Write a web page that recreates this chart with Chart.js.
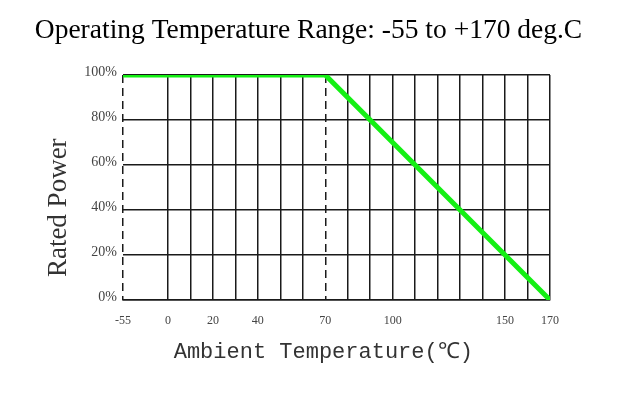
<!DOCTYPE html>
<html>
<head>
<meta charset="utf-8">
<script src="https://cdn.jsdelivr.net/npm/chart.js@4"></script>
<style>
  html, body { margin: 0; padding: 0; background: #fff; }
  #chart { display: block; }
</style>
</head>
<body>
<canvas id="chart" width="617" height="395"></canvas>
<script>
// derating curve: temperature (deg C) vs rated power (%)
const temps = [-55, 70, 170];
const ratedPower = [100, 100, 0];

// vertical grid positions and the ones that get a label
const gridTemps = [-55, 0, 10, 20, 30, 40, 50, 60, 70, 80, 90, 100, 110, 120, 130, 140, 150, 160, 170];
const labelTemps = [-55, 0, 20, 40, 70, 100, 150, 170];
const dashedTemps = [-55, 70];
const powerTicks = [0, 20, 40, 60, 80, 100];

// the drawing squeezes -55..0 into the width of 20 degrees (broken axis)
class BrokenLinearScale extends Chart.LinearScale {
    getPixelForValue(value) {
        const v = value < 0 ? value * 20 / 55 : value;
        return super.getPixelForValue(v);
    }
}
BrokenLinearScale.id = "brokenLinear";
BrokenLinearScale.defaults = Chart.LinearScale.defaults;
Chart.register(BrokenLinearScale);

const gridColor = "#1a1a1a";
const NBSP = "\u00a0";

const ctx = document.getElementById("chart").getContext("2d");
const chart = new Chart(ctx, {
    type: "line",
    data: {
        datasets: [{
            data: temps.map((t, i) => ({ x: t, y: ratedPower[i] })),
            borderColor: "#14f014",
            borderWidth: 5,
            pointRadius: 0,
            tension: 0,
            fill: false
        }]
    },
    options: {
        responsive: false,
        animation: false,
        layout: { padding: 0 },
        plugins: {
            legend: { display: false },
            tooltip: { enabled: false },
            title: {
                display: true,
                text: "Operating Temperature Range: -55 to +170 deg.C",
                color: "#000",
                font: { family: "'Liberation Serif', serif", size: 27.5, weight: "normal", lineHeight: 1.2 },
                padding: { top: 14, bottom: 28 }
            }
        },
        scales: {
            x: {
                type: "brokenLinear",
                min: -20,
                max: 170,
                afterFit: function(scale) { scale.height = 95; },
                afterBuildTicks: function(scale) {
                    scale.ticks = gridTemps.map(v => ({ value: v }));
                },
                ticks: {
                    autoSkip: false,
                    maxRotation: 0,
                    padding: 14,
                    color: "#444",
                    font: { family: "'Liberation Serif', serif", size: 12 },
                    callback: function(value) {
                        return labelTemps.includes(value) ? String(value) : "";
                    }
                },
                grid: {
                    color: gridColor,
                    lineWidth: 1.5,
                    drawTicks: false
                },
                border: {
                    display: true,
                    color: gridColor,
                    width: 1.5,
                    dash: function(c) {
                        return c.tick && dashedTemps.includes(c.tick.value) ? [8, 5] : [];
                    }
                },
                title: {
                    display: true,
                    text: "Ambient Temperature(\u2103)" + NBSP + NBSP,
                    color: "#333",
                    font: { family: "'Liberation Mono', monospace", size: 22 },
                    padding: { top: 0, bottom: 30 }
                }
            },
            y: {
                min: 0,
                max: 100,
                afterFit: function(scale) { scale.width = 123; },
                afterBuildTicks: function(scale) {
                    scale.ticks = powerTicks.map(v => ({ value: v }));
                },
                ticks: {
                    padding: 6,
                    labelOffset: -3,
                    color: "#444",
                    font: { family: "'Liberation Serif', serif", size: 14 },
                    callback: function(value) { return value + "%"; }
                },
                grid: {
                    color: gridColor,
                    lineWidth: 1.5,
                    drawTicks: false
                },
                border: { display: false },
                title: {
                    display: true,
                    text: "Rated Power" + NBSP.repeat(6),
                    color: "#333",
                    font: { family: "'Liberation Serif', serif", size: 27 },
                    padding: { top: 43, bottom: 0 }
                }
            },
            // empty right-hand axis, only reserves the white margin right of the grid
            yRight: {
                position: "right",
                min: 0,
                max: 100,
                afterFit: function(scale) { scale.width = 67; },
                ticks: { display: false },
                grid: { display: false },
                border: { display: false }
            }
        }
    }
});
</script>
</body>
</html>
